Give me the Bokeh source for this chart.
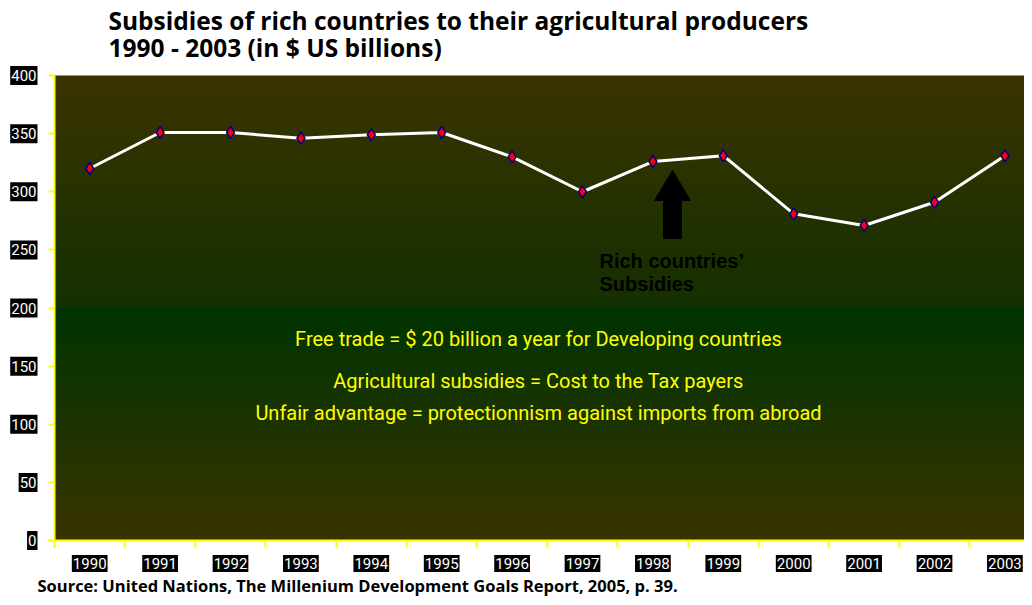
import numpy as np
from bokeh.plotting import figure
from bokeh.models import FixedTicker, Label, Range1d, LinearAxis
from bokeh.embed import file_html
from bokeh.resources import INLINE

years = ["1990", "1991", "1992", "1993", "1994", "1995", "1996",
         "1997", "1998", "1999", "2000", "2001", "2002", "2003"]
subsidies = [320, 351, 351, 346, 349, 351, 330, 300, 326, 331, 281, 271, 291, 331]
y_ticks = [0, 50, 100, 150, 200, 250, 300, 350, 400]
title_lines = ["Subsidies of rich countries to their agricultural producers",
               "1990 - 2003 (in $ US billions)"]
message_lines = ["Free trade = $ 20 billion a year for Developing countries",
                 "Agricultural subsidies = Cost to the Tax payers",
                 "Unfair advantage = protectionnism against imports from abroad"]
arrow_lines = ["Rich countries\u2019", "Subsidies"]
source_text = "Source: United Nations, The Millenium Development Goals Report, 2005, p. 39."

NARROW = "Roboto"
xs = list(range(len(years)))

W, H = 1024, 597
FX0, FY0, FY1 = 54, 75, 540          # plot area left / top / bottom (px)
PXU = 70.4                            # px per category
PYU = (FY1 - FY0) / 400.0             # px per value unit
x0 = -0.5 - FX0 / PXU
x1 = -0.5 + (W - FX0) / PXU
y1 = 400 + FY0 / PYU
y0 = -(H - FY1) / PYU

p = figure(width=W, height=H, output_backend="svg", toolbar_location=None,
           x_range=Range1d(x0, x1), y_range=Range1d(y0, y1),
           x_axis_location=None, y_axis_location=None,
           min_border=0)
p.outline_line_color = None
p.background_fill_color = "white"
p.border_fill_color = "white"
p.xgrid.visible = False
p.ygrid.visible = False

# background gradient of the plot area
n = 400
top = np.array([0x3b, 0x34, 0x00], float)
mid_hi = np.array([0x14, 0x30, 0x00], float)
mid_lo = np.array([0x00, 0x33, 0x00], float)
bot = np.array([0x39, 0x33, 0x00], float)
img = np.zeros((n, 1), dtype=np.uint32)
view = img.view(dtype=np.uint8).reshape((n, 1, 4))
for i in range(n):
    v = i / (n - 1) * 400
    if v >= 200:
        t = (v - 200) / 200
        c = mid_hi * (1 - t) + top * t
    else:
        t = v / 200
        c = bot * (1 - t) + mid_lo * t
    view[i, 0, 0:3] = c.astype(np.uint8)
    view[i, 0, 3] = 255
p.image_rgba(image=[img], x=-0.5, y=0, dw=x1 + 0.5, dh=400, level="image")

# axes placed at the plot-area edges
xt = [i - 0.5 for i in range(len(years) + 1)]
yax = LinearAxis(fixed_location=-0.5, ticker=FixedTicker(ticks=y_ticks),
                 major_label_overrides={t: "" for t in y_ticks},
                 bounds=(-7 / PYU, 400))
xax = LinearAxis(fixed_location=0, ticker=FixedTicker(ticks=xt),
                 major_label_overrides={t: "" for t in xt},
                 bounds=(-0.5 - 7 / PXU, x1))
for ax in (xax, yax):
    ax.axis_line_color = "#ffff00"
    ax.axis_line_width = 2
    ax.major_tick_line_color = "#ffff00"
    ax.major_tick_line_width = 2
    ax.minor_tick_line_color = None
    ax.major_tick_in = 0
yax.major_tick_out = 6
xax.major_tick_out = 7
p.add_layout(yax, "left")
p.add_layout(xax, "below")

# data
p.line(xs, subsidies, line_color="white", line_width=3)
p.scatter(xs, subsidies, marker="diamond", size=12, fill_color="red",
          line_color="navy", line_width=1.5)

# tick labels in black boxes
ylab_x = -0.5 - 17 / PXU
for t in y_ticks:
    p.add_layout(Label(x=ylab_x, y=t, text=str(t), text_align="right",
                       text_baseline="middle", text_color="white",
                       text_font=NARROW, text_font_size="15px",
                       background_fill_color="black",
                       padding=dict(left=1, right=1, top=4, bottom=4)))
for i, yr in enumerate(years):
    p.add_layout(Label(x=i, y=-(563 - FY1) / PYU, text=yr, text_align="center",
                       text_baseline="middle", text_color="white",
                       text_font=NARROW, text_font_size="15px",
                       background_fill_color="black",
                       padding=dict(left=1, right=1, top=3, bottom=3)))

# title
for k, line in enumerate(title_lines):
    p.add_layout(Label(x=-0.5 + (108 - FX0) / PXU, y=(FY1 - (20 + 27 * k)) / PYU,
                       text=line, text_align="left",
                       text_baseline="middle", text_color="black",
                       text_font="Open Sans", text_font_style="bold",
                       text_font_size="24.5px"))

# message
for k, py in enumerate([338, 380, 412]):
    p.add_layout(Label(x=-0.5 + (538 - FX0) / PXU, y=(FY1 - py) / PYU,
                       text=message_lines[k],
                       text_align="center", text_baseline="middle",
                       text_color="#ffff00", text_font=NARROW,
                       text_font_size="20px"))

# arrow
ax_c = -0.5 + (672 - FX0) / PXU
y_base, y_tip = (FY1 - 238) / PYU, (FY1 - 170) / PYU
head_h = 30 / PYU
sw, hw = 9 / PXU, 18 / PXU
p.patch([ax_c - sw, ax_c - sw, ax_c - hw, ax_c, ax_c + hw, ax_c + sw, ax_c + sw],
        [y_base, y_tip - head_h, y_tip - head_h, y_tip, y_tip - head_h, y_tip - head_h, y_base],
        fill_color="black", line_color="black")
for k, py in enumerate([260, 283]):
    p.add_layout(Label(x=-0.5 + (599 - FX0) / PXU, y=(FY1 - py) / PYU,
                       text=arrow_lines[k], text_align="left",
                       text_baseline="middle", text_color="black",
                       text_font="Liberation Sans", text_font_style="bold",
                       text_font_size="20px"))

# source
p.add_layout(Label(x=-0.5 + (37 - FX0) / PXU, y=(FY1 - 585) / PYU, text=source_text,
                   text_align="left", text_baseline="middle", text_color="black",
                   text_font="Open Sans", text_font_style="bold",
                   text_font_size="16.5px"))

open("out.html", "w").write(file_html(p, INLINE))
